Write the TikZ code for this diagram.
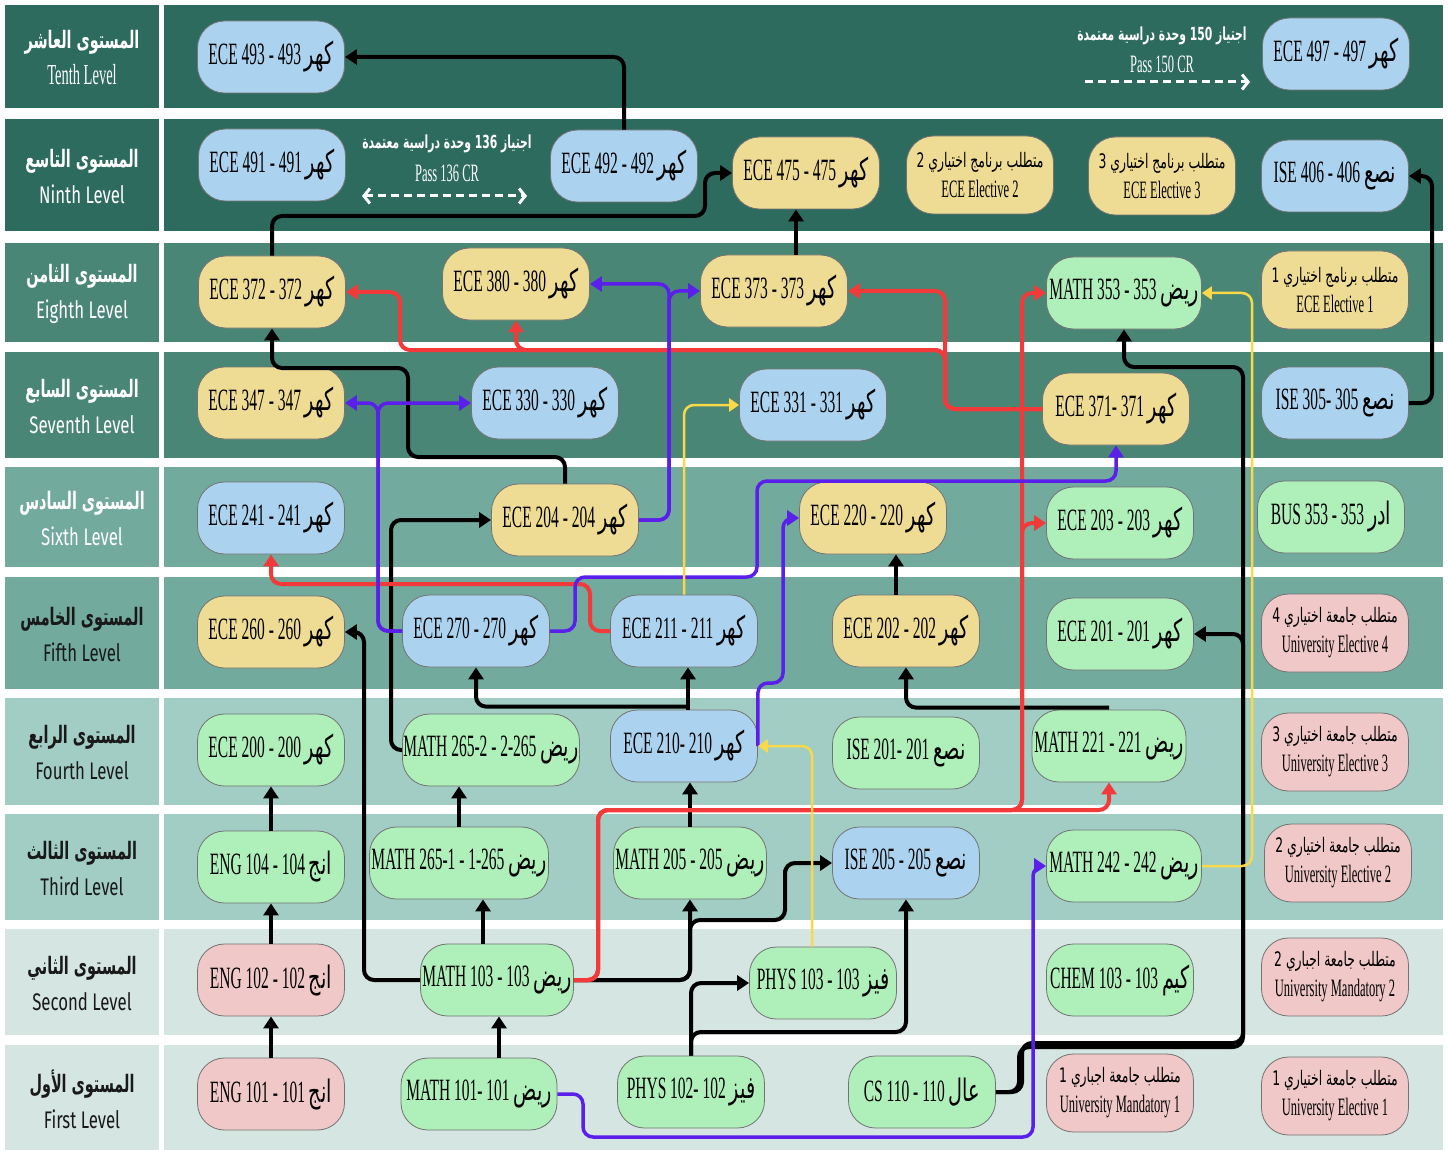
\documentclass[tikz,border=0pt]{standalone}
\usepackage{fontspec}
\setmainfont{Liberation Serif}[FakeStretch=0.5]
\newfontfamily\arabicfont[Script=Arabic,FakeStretch=0.62]{DejaVu Sans}
\newfontfamily\levelfont[FakeStretch=0.7]{Fira Sans}
\newfontfamily\levelarabic[Script=Arabic,FakeStretch=0.6]{DejaVu Sans}
\TeXXeTstate=1
\usetikzlibrary
  {
    arrows.meta, % Triangle and barb tips
  }

\definecolor{rowA}{HTML}{2E6B5F}
\definecolor{rowB}{HTML}{4A8676}
\definecolor{rowC}{HTML}{72AA9D}
\definecolor{rowD}{HTML}{A2CDC4}
\definecolor{rowE}{HTML}{D5E5E1}
\definecolor{boxblue}{HTML}{ABD3EF}
\definecolor{boxyellow}{HTML}{EFDC94}
\definecolor{boxgreen}{HTML}{AEEFBA}
\definecolor{boxpink}{HTML}{F0C8C8}
\definecolor{linkred}{HTML}{F23A3A}
\definecolor{linkpurple}{HTML}{5A1FEA}
\definecolor{linkyellow}{HTML}{F9D94A}

\newcommand{\artext}[1]{{\arabicfont\beginR#1\endR}}
\newcommand{\elecar}[1]{{\fontsize{20}{30}\selectfont\artext{#1}}}
\newcommand{\levelar}[1]{{\levelarabic\bfseries\beginR#1\endR}}

\begin{document}
\begin{tikzpicture}
    [
      x=1pt, y=-1pt,
      course/.style=
        {
          rectangle,
          rounded corners=27pt,
          minimum width=147pt,
          minimum height=72pt,
          inner sep=0pt,
          draw=black!55,
          line width=0.8pt,
          font=\fontsize{31}{34}\selectfont,
        },
      bluecourse/.style={course, fill=boxblue},
      yellowcourse/.style={course, fill=boxyellow},
      greencourse/.style={course, fill=boxgreen},
      pinkcourse/.style={course, fill=boxpink},
      elective/.style=
        {
          minimum height=78pt,
          align=center,
          font=\fontsize{25}{30}\selectfont,
        },
      level/.style=
        {
          align=center,
          text=white,
          font=\levelfont\fontsize{24}{36}\selectfont,
        },
      darklevel/.style={level, text=black!90},
      passtext/.style={text=white, align=center, font=\fontsize{25}{30}\selectfont},
      passline/.style={draw=white, line width=3pt, dash pattern=on 8pt off 5pt},
      link/.style=
        {
          line width=4pt,
          rounded corners=10pt,
          -{Triangle[length=12pt,width=15pt]},
        },
      blacklink/.style={link, draw=black},
      redlink/.style={link, draw=linkred},
      purplelink/.style={link, draw=linkpurple, line width=3.5pt},
      yellowlink/.style={link, draw=linkyellow, line width=2.5pt, -{Triangle[length=10pt,width=13pt]}},
    ]
    \useasboundingbox (0,0) rectangle (1448,1150);
    \fill [white] (0,0) rectangle (1448,1150);

    % level bands
    \foreach \ya/\yb/\rowcol in {5/108/rowA, 119/231/rowA, 243/342/rowB, 352/458/rowB,
      467/567/rowC, 577/689/rowC, 698/805/rowD, 814/920/rowD, 929/1035/rowE, 1045/1150/rowE}
      {
        \fill [\rowcol] (5,\ya) rectangle (159,\yb);
        \fill [\rowcol] (164,\ya) rectangle (1443,\yb);
      }

    \node (lvl10) [level] at (82,58) {\levelar{المستوى العاشر}\\ {\rmfamily\fontsize{29}{36}\selectfont Tenth Level}};
    \node (lvl9) [level] at (82,177) {\levelar{المستوى التاسع}\\ Ninth Level};
    \node (lvl8) [level] at (82,294) {\levelar{المستوى الثامن}\\ Eighth Level};
    \node (lvl7) [level] at (82,407) {\levelar{المستوى السابع}\\ Seventh Level};
    \node (lvl6) [level] at (82,519) {\levelar{المستوى السادس}\\ Sixth Level};
    \node (lvl5) [darklevel] at (82,635) {\levelar{المستوى الخامس}\\ Fifth Level};
    \node (lvl4) [darklevel] at (82,753) {\levelar{المستوى الرابع}\\ Fourth Level};
    \node (lvl3) [darklevel] at (82,869) {\levelar{المستوى الثالث}\\ Third Level};
    \node (lvl2) [darklevel] at (82,984) {\levelar{المستوى الثاني}\\ Second Level};
    \node (lvl1) [darklevel] at (82,1099) {\levelar{المستوى الأول}\\ First Level};

    % tenth level
    \node (ece493) [bluecourse] at (271,57) {ECE 493 - 493 \artext{كهر}};
    \node (ece497) [bluecourse] at (1336,54) {ECE 497 - 497 \artext{كهر}};
    \node (pass150ar) [passtext] at (1162,36) {\fontsize{18}{22}\selectfont\levelar{اجتياز \beginL150\endL{} وحدة دراسية معتمدة}};
    \node (pass150) [passtext] at (1162,64) {Pass 150 CR};
    \coordinate (pass150a) at (1085,82);
    \coordinate (pass150b) at (1250,82);

    % ninth level
    \node (ece491) [bluecourse] at (272,165) {ECE 491 - 491 \artext{كهر}};
    \node (pass136ar) [passtext] at (447,144) {\fontsize{18}{22}\selectfont\levelar{اجتياز \beginL136\endL{} وحدة دراسية معتمدة}};
    \node (pass136) [passtext] at (447,173) {Pass 136 CR};
    \coordinate (pass136a) at (362,196);
    \coordinate (pass136b) at (527,196);
    \node (ece492) [bluecourse] at (624,166) {ECE 492 - 492 \artext{كهر}};
    \node (ece475) [yellowcourse] at (806,173) {ECE 475 - 475 \artext{كهر}};
    \node (ecee2) [yellowcourse, elective] at (980,175) {\elecar{متطلب برنامج اختياري 2}\\ ECE Elective 2};
    \node (ecee3) [yellowcourse, elective] at (1162,176) {\elecar{متطلب برنامج اختياري 3}\\ ECE Elective 3};
    \node (ise406) [bluecourse] at (1335,176) {ISE 406 - 406 \artext{نصع}};

    % eighth level
    \node (ece372) [yellowcourse] at (272,292) {ECE 372 - 372 \artext{كهر}};
    \node (ece380) [yellowcourse] at (516,284) {ECE 380 - 380 \artext{كهر}};
    \node (ece373) [yellowcourse] at (774,291) {ECE 373 - 373 \artext{كهر}};
    \node (math353) [greencourse, minimum width=155pt] at (1124,293) {MATH 353 - 353 \artext{ريض}};
    \node (ecee1) [yellowcourse, elective] at (1335,290) {\elecar{متطلب برنامج اختياري 1}\\ ECE Elective 1};

    % seventh level
    \node (ece347) [yellowcourse] at (271,403) {ECE 347 - 347 \artext{كهر}};
    \node (ece330) [bluecourse] at (545,403) {ECE 330 - 330 \artext{كهر}};
    \node (ece331) [bluecourse] at (813,405) {ECE 331 - 331 \artext{كهر}};
    \node (ece371) [yellowcourse] at (1116,409) {ECE 371- 371 \artext{كهر}};
    \node (ise305) [bluecourse] at (1335,403) {ISE 305- 305 \artext{نصع}};

    % sixth level
    \node (ece241) [bluecourse] at (271,518) {ECE 241 - 241 \artext{كهر}};
    \node (ece204) [yellowcourse] at (565,520) {ECE 204 - 204 \artext{كهر}};
    \node (ece220) [yellowcourse] at (873,518) {ECE 220 - 220 \artext{كهر}};
    \node (ece203) [greencourse] at (1120,523) {ECE 203 - 203 \artext{كهر}};
    \node (bus353) [greencourse] at (1331,517) {BUS 353 - 353 \artext{ادر}};

    % fifth level
    \node (ece260) [yellowcourse] at (271,632) {ECE 260 - 260 \artext{كهر}};
    \node (ece270) [bluecourse] at (476,631) {ECE 270 - 270 \artext{كهر}};
    \node (ece211) [bluecourse] at (684,631) {ECE 211 - 211 \artext{كهر}};
    \node (ece202) [yellowcourse] at (906,631) {ECE 202 - 202 \artext{كهر}};
    \node (ece201) [greencourse] at (1120,634) {ECE 201 - 201 \artext{كهر}};
    \node (unie4) [pinkcourse, elective] at (1335,633) {\elecar{متطلب جامعة اختياري 4}\\ University Elective 4};

    % fourth level
    \node (ece200) [greencourse] at (271,750) {ECE 200 - 200 \artext{كهر}};
    \node (math2652) [greencourse, minimum width=177pt] at (491,750) {MATH 265-2 - 2-265 \artext{ريض}};
    \node (ece210) [bluecourse] at (684,746) {ECE 210- 210 \artext{كهر}};
    \node (ise201) [greencourse] at (906,753) {ISE 201- 201 \artext{نصع}};
    \node (math221) [greencourse, minimum width=154pt] at (1109,746) {MATH 221 - 221 \artext{ريض}};
    \node (unie3) [pinkcourse, elective] at (1335,752) {\elecar{متطلب جامعة اختياري 3}\\ University Elective 3};

    % third level
    \node (eng104) [greencourse] at (271,867) {ENG 104 - 104 \artext{انج}};
    \node (math2651) [greencourse, minimum width=179pt] at (459,863) {MATH 265-1 - 1-265 \artext{ريض}};
    \node (math205) [greencourse, minimum width=153pt] at (690,863) {MATH 205 - 205 \artext{ريض}};
    \node (ise205) [bluecourse] at (906,863) {ISE 205 - 205 \artext{نصع}};
    \node (math242) [greencourse, minimum width=155pt] at (1124,866) {MATH 242 - 242 \artext{ريض}};
    \node (unie2) [pinkcourse, elective] at (1338,863) {\elecar{متطلب جامعة اختياري 2}\\ University Elective 2};

    % second level
    \node (eng102) [pinkcourse] at (271,980) {ENG 102 - 102 \artext{انج}};
    \node (math103) [greencourse, minimum width=153pt] at (497,980) {MATH 103 - 103 \artext{ريض}};
    \node (phys103) [greencourse] at (823,983) {PHYS 103 - 103 \artext{فيز}};
    \node (chem103) [greencourse] at (1120,980) {CHEM 103 - 103 \artext{كيم}};
    \node (unim2) [pinkcourse, elective] at (1335,977) {\elecar{متطلب جامعة اجباري 2}\\ University Mandatory 2};

    % first level
    \node (eng101) [pinkcourse] at (271,1094) {ENG 101 - 101 \artext{انج}};
    \node (math101) [greencourse, minimum width=156pt] at (479,1094) {MATH 101- 101 \artext{ريض}};
    \node (phys102) [greencourse] at (691,1092) {PHYS 102- 102 \artext{فيز}};
    \node (cs110) [greencourse] at (922,1092) {CS 110 - 110 \artext{عال}};
    \node (unim1) [pinkcourse, elective] at (1120,1093) {\elecar{متطلب جامعة اجباري 1}\\ University Mandatory 1};
    \node (unie1) [pinkcourse, elective] at (1335,1096) {\elecar{متطلب جامعة اختياري 1}\\ University Elective 1};

    % credit hour conditions
    \draw [passline, -{Straight Barb[length=6pt,width=15pt]}] (pass150a) -- (pass150b);
    \draw [passline, {Straight Barb[length=6pt,width=15pt]}-{Straight Barb[length=6pt,width=15pt]}] (pass136a) -- (pass136b);

    % black prerequisites
    \draw [blacklink] (ece492.north) |- (ece493.east);
    \draw [blacklink] (ece372.north) |- (705,216) |- (ece475.west);
    \draw [blacklink] ([xshift=22pt]ece373.north) -- ([xshift=-10pt]ece475.south);
    \draw [blacklink] (ece204.north) |- (408,457) |- (272,368) -- (ece372.south);
    \draw [blacklink] (ise305.east) -| (1432,300) |- (ise406.east);
    \draw [blacklink] (math2652.west) -| (391,600) |- (ece204.west);
    \draw [blacklink] (math103.west) -| (364,800) |- (ece260.east);
    \draw [blacklink] ([xshift=4pt]ece210.north) -- ([xshift=4pt]ece211.south);
    \draw [blacklink] ([xshift=4pt,yshift=3pt]ece210.north) -| (ece270.south);
    \draw [blacklink] ([yshift=2pt]math221.north) -| (ece202.south);
    \draw [blacklink] ([xshift=-10pt]ece202.north) -- ([xshift=23pt]ece220.south);
    \draw [blacklink] (math2651.north) -- (math2651.north |- math2652.south);
    \draw [blacklink] ([xshift=-14pt]math103.north) -- ([xshift=24pt]math2651.south);
    \draw [blacklink] ([xshift=20pt]math101.north) -- ([xshift=2pt]math103.south);
    \draw [blacklink] (eng101) -- (eng102);
    \draw [blacklink] (eng102) -- (eng104);
    \draw [blacklink] (eng104) -- (ece200);
    \draw [blacklink] (math205.north) -- (math205.north |- ece210.south);
    \draw [blacklink] (math103.east) -| (math205.south);
    \draw [blacklink] (math103.east) -| (690,920) -| (785,880) |- (ise205.west);
    \draw [blacklink] (phys102.north) |- (phys103.west);
    \draw [blacklink] (phys102.north) |- (906,1032) -- (ise205.south);
    \draw [blacklink] (cs110.east) -| (1022,1043) -| (1243,367) -| (math353.south);
    \draw [blacklink] (cs110.east) -| (1019,1047) -| (1243,700) |- (ece201.east);

    % red prerequisites
    \draw [redlink] (math103.east) -| (598,810) -| (math221.south);
    \draw [redlink] (math103.east) -| (598,810) -| (1022,700) |- (ece203.west);
    \draw [redlink] (math103.east) -| (598,810) -| (1022,700) |- (math353.west);
    \draw [redlink] (ece211.west) -| (590,584) -| (ece241.south);
    \draw [redlink] (ece371.west) -| (945,350) |- (ece373.east);
    \draw [redlink] (ece371.west) -| (945,350) -| (400,320) |- (ece372.east);
    \draw [redlink] (ece371.west) -| (945,350) -| (ece380.south);

    % purple prerequisites
    \draw [purplelink] (ece204.east) -| (669,400) |- (ece373.west);
    \draw [purplelink] (ece204.east) -| (669,400) |- (ece380.east);
    \draw [purplelink] (ece270.west) -| (378,500) |- (ece347.east);
    \draw [purplelink] (ece270.west) -| (378,500) |- (ece330.west);
    \draw [purplelink] (ece270.east) -| (575,577) -| (757,481) -| (ece371.south);
    \draw [purplelink] (ece210.east) |- (783,683) |- (ece220.west);
    \draw [purplelink] (math101.east) -| (583,1137) -| (1033,1000) |- (math242.west);

    % yellow prerequisites
    \draw [yellowlink] (ece211.north) |- (ece331.west);
    \draw [yellowlink] ([xshift=-11pt]phys103.north) |- (ece210.east);
    \draw [yellowlink] (math242.east) -| (1252,500) |- (math353.east);
\end{tikzpicture}
\end{document}
